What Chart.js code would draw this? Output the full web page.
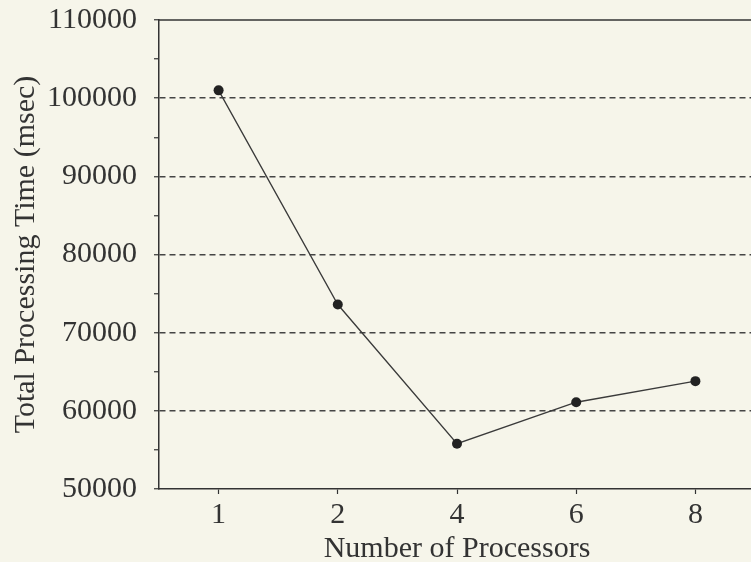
<!DOCTYPE html>
<html>
<head>
<meta charset="utf-8">
<script src="https://cdn.jsdelivr.net/npm/chart.js@4"></script>
<style>
  html, body { margin: 0; padding: 0; background: #f6f5ea; overflow: hidden; }
  #wrap { width: 760px; height: 562px; }
</style>
</head>
<body>
<div id="wrap"><canvas id="chart"></canvas></div>
<script>
// data
const processors = ['1', '2', '4', '6', '8'];
const totalTime = [101000, 73600, 55800, 61100, 63800];
const yMin = 50000;
const yMax = 110000;
const yLabelStep = 10000;
const yMinorStep = 5000;

const ink = '#333';
const serif = 'Liberation Serif';

// frame line along the top of the plot
const topFrame = {
    id: 'topFrame',
    afterDraw(chart) {
        const a = chart.chartArea;
        const c = chart.ctx;
        c.save();
        c.strokeStyle = ink;
        c.lineWidth = 1.5;
        c.beginPath();
        c.moveTo(a.left, a.top);
        c.lineTo(a.right, a.top);
        c.stroke();
        c.restore();
    }
};

var ctx = document.getElementById('chart').getContext('2d');
var chart = new Chart(ctx, {
    type: 'line',
    data: {
        labels: processors,
        datasets: [{
            data: totalTime,
            borderColor: '#3a3a3a',
            borderWidth: 1.3,
            pointBackgroundColor: '#222',
            pointBorderWidth: 0,
            pointRadius: 5,
            tension: 0
        }]
    },
    options: {
        responsive: true,
        maintainAspectRatio: false,
        animation: false,
        layout: { padding: { left: 4, right: 0, top: 0, bottom: -2 } },
        plugins: { legend: { display: false }, tooltip: { enabled: false } },
        scales: {
            x: {
                type: 'category',
                offset: true,
                grid: { offset: false, drawOnChartArea: false, tickLength: 5, tickColor: ink, tickWidth: 1.2 },
                border: { color: ink, width: 1.5 },
                ticks: { color: ink, padding: 6, font: { family: serif, size: 30, lineHeight: 1 } },
                title: {
                    display: true,
                    text: 'Number of Processors',
                    color: ink,
                    font: { family: serif, size: 30, lineHeight: 1 },
                    padding: { top: -2, bottom: 0 }
                }
            },
            y: {
                min: yMin,
                max: yMax,
                afterFit: function (s) { s.width = 155; },
                ticks: {
                    stepSize: yMinorStep,
                    autoSkip: false,
                    color: ink,
                    padding: 17,
                    font: { family: serif, size: 30, lineHeight: 0.2 },
                    callback: function (v) { return v % yLabelStep === 0 ? String(v) : ''; }
                },
                grid: {
                    tickLength: 5,
                    tickColor: ink,
                    tickWidth: 1.2,
                    lineWidth: 1.5,
                    color: function (c) {
                        var v = c.tick ? c.tick.value : null;
                        if (v === null || v === yMin || v === yMax || v % yLabelStep !== 0) return 'rgba(0,0,0,0)';
                        return '#444';
                    }
                },
                border: { color: ink, width: 1.5, dash: [6, 4] },
                title: {
                    display: true,
                    text: 'Total Processing Time (msec)',
                    color: ink,
                    font: { family: serif, size: 30, lineHeight: 1.2 },
                    padding: { top: 4, bottom: 4 }
                }
            }
        }
    },
    plugins: [topFrame]
});
</script>
</body>
</html>
